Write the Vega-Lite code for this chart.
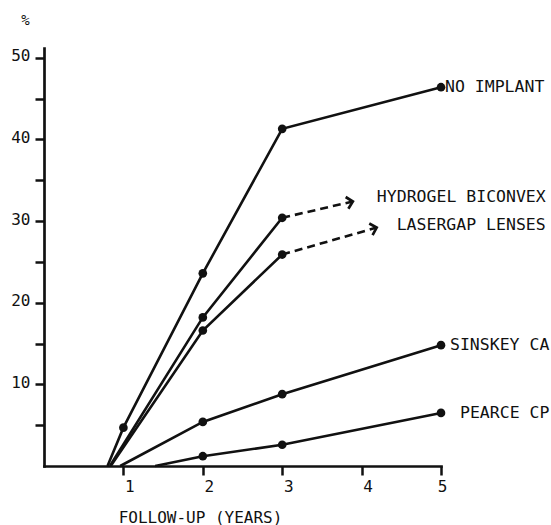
{
  "$schema": "https://vega.github.io/schema/vega-lite/v6.json",
  "width": 397,
  "height": 418,
  "autosize": {"type": "none"},
  "padding": {"left": 44, "top": 48, "right": 110, "bottom": 59},
  "background": "white",
  "config": {
    "view": {"stroke": null},
    "font": "DejaVu Sans Mono",
    "axis": {
      "grid": false,
      "domainColor": "#111",
      "domainWidth": 2.7,
      "domainCap": "square",
      "tickColor": "#111",
      "tickWidth": 2.5,
      "tickSize": 9,
      "labelColor": "#111",
      "labelFont": "DejaVu Sans Mono",
      "labelFontSize": 16,
      "titleColor": "#111",
      "titleFont": "DejaVu Sans Mono",
      "titleFontWeight": "normal"
    }
  },
  "datasets": {
    "main": [
      {"series": "NO IMPLANT", "year": 0.80, "pct": 0},
      {"series": "NO IMPLANT", "year": 1, "pct": 4.7},
      {"series": "NO IMPLANT", "year": 2, "pct": 23.6},
      {"series": "NO IMPLANT", "year": 3, "pct": 41.3},
      {"series": "NO IMPLANT", "year": 5, "pct": 46.4},
      {"series": "HYDROGEL BICONVEX", "year": 0.83, "pct": 0},
      {"series": "HYDROGEL BICONVEX", "year": 2, "pct": 18.2},
      {"series": "HYDROGEL BICONVEX", "year": 3, "pct": 30.4},
      {"series": "LASERGAP LENSES", "year": 0.84, "pct": 0},
      {"series": "LASERGAP LENSES", "year": 2, "pct": 16.6},
      {"series": "LASERGAP LENSES", "year": 3, "pct": 25.9},
      {"series": "SINSKEY CA", "year": 0.96, "pct": 0},
      {"series": "SINSKEY CA", "year": 2, "pct": 5.4},
      {"series": "SINSKEY CA", "year": 3, "pct": 8.8},
      {"series": "SINSKEY CA", "year": 5, "pct": 14.8},
      {"series": "PEARCE CP", "year": 1.40, "pct": 0},
      {"series": "PEARCE CP", "year": 2, "pct": 1.2},
      {"series": "PEARCE CP", "year": 3, "pct": 2.6},
      {"series": "PEARCE CP", "year": 5, "pct": 6.5}
    ],
    "dash": [
      {"series": "HYDROGEL BICONVEX", "year": 3, "pct": 30.4},
      {"series": "HYDROGEL BICONVEX", "year": 3.89, "pct": 32.4},
      {"series": "LASERGAP LENSES", "year": 3, "pct": 25.9},
      {"series": "LASERGAP LENSES", "year": 4.19, "pct": 29.2}
    ],
    "labels": [
      {"series": "NO IMPLANT", "year": 5, "pct": 46.4},
      {"series": "HYDROGEL BICONVEX", "year": 3.89, "pct": 32.4},
      {"series": "LASERGAP LENSES", "year": 4.19, "pct": 29.2},
      {"series": "SINSKEY CA", "year": 5, "pct": 14.8},
      {"series": "PEARCE CP", "year": 5, "pct": 6.5}
    ]
  },
  "encoding": {
    "x": {
      "field": "year",
      "type": "quantitative",
      "scale": {"domain": [0, 5], "nice": false, "zero": false},
      "axis": {
        "values": [1, 2, 3, 4, 5],
        "title": "FOLLOW-UP (YEARS)",
        "titleFontSize": 16,
        "titleX": 156,
        "titleY": 51,
        "titleAlign": "center",
        "titleBaseline": "middle",
        "labelOffset": 6,
        "labelPadding": 3
      }
    },
    "y": {
      "field": "pct",
      "type": "quantitative",
      "scale": {"domain": [0, 51.2], "nice": false},
      "axis": {
        "values": [5, 10, 15, 20, 25, 30, 35, 40, 45, 50],
        "labelExpr": "datum.value % 10 == 0 ? datum.label : ''",
        "labelOffset": -2,
        "labelPadding": 5,
        "title": "%",
        "titleAngle": 0,
        "titleFontSize": 14,
        "titleX": -19,
        "titleY": -28,
        "titleAlign": "center",
        "titleBaseline": "middle"
      }
    }
  },
  "layer": [
    {
      "data": {"name": "main"},
      "mark": {"type": "line", "color": "#111", "strokeWidth": 2.6},
      "encoding": {"detail": {"field": "series"}}
    },
    {
      "data": {"name": "main"},
      "transform": [{"filter": "datum.pct > 0"}],
      "mark": {"type": "point", "filled": true, "color": "#111", "opacity": 1, "size": 75}
    },
    {
      "data": {"name": "dash"},
      "mark": {"type": "line", "color": "#111", "strokeWidth": 2.6, "strokeDash": [8, 5]},
      "encoding": {"detail": {"field": "series"}}
    },
    {
      "data": {"name": "labels"},
      "transform": [{"filter": "datum.series == 'HYDROGEL BICONVEX'"}],
      "mark": {"type": "point", "shape": "M-1,-1L0,0L-1,1", "filled": false, "stroke": "#111", "strokeWidth": 2.7, "opacity": 1, "size": 144, "angle": -13}
    },
    {
      "data": {"name": "labels"},
      "transform": [{"filter": "datum.series == 'LASERGAP LENSES'"}],
      "mark": {"type": "point", "shape": "M-1,-1L0,0L-1,1", "filled": false, "stroke": "#111", "strokeWidth": 2.7, "opacity": 1, "size": 144, "angle": -16}
    },
    {
      "data": {"name": "labels"},
      "transform": [{"filter": "datum.series == 'NO IMPLANT'"}],
      "mark": {"type": "text", "align": "left", "baseline": "middle", "dx": 4, "dy": 0, "fontSize": 16.5, "font": "DejaVu Sans Mono", "color": "#111"},
      "encoding": {"text": {"field": "series"}}
    },
    {
      "data": {"name": "labels"},
      "transform": [{"filter": "datum.series == 'HYDROGEL BICONVEX'"}],
      "mark": {"type": "text", "align": "left", "baseline": "middle", "dx": 24, "dy": -4, "fontSize": 16.5, "font": "DejaVu Sans Mono", "color": "#111"},
      "encoding": {"text": {"field": "series"}}
    },
    {
      "data": {"name": "labels"},
      "transform": [{"filter": "datum.series == 'LASERGAP LENSES'"}],
      "mark": {"type": "text", "align": "left", "baseline": "middle", "dx": 20, "dy": -3, "fontSize": 16.5, "font": "DejaVu Sans Mono", "color": "#111"},
      "encoding": {"text": {"field": "series"}}
    },
    {
      "data": {"name": "labels"},
      "transform": [{"filter": "datum.series == 'SINSKEY CA'"}],
      "mark": {"type": "text", "align": "left", "baseline": "middle", "dx": 9, "dy": 0, "fontSize": 16.5, "font": "DejaVu Sans Mono", "color": "#111"},
      "encoding": {"text": {"field": "series"}}
    },
    {
      "data": {"name": "labels"},
      "transform": [{"filter": "datum.series == 'PEARCE CP'"}],
      "mark": {"type": "text", "align": "left", "baseline": "middle", "dx": 19, "dy": 0, "fontSize": 16.5, "font": "DejaVu Sans Mono", "color": "#111"},
      "encoding": {"text": {"field": "series"}}
    }
  ]
}
